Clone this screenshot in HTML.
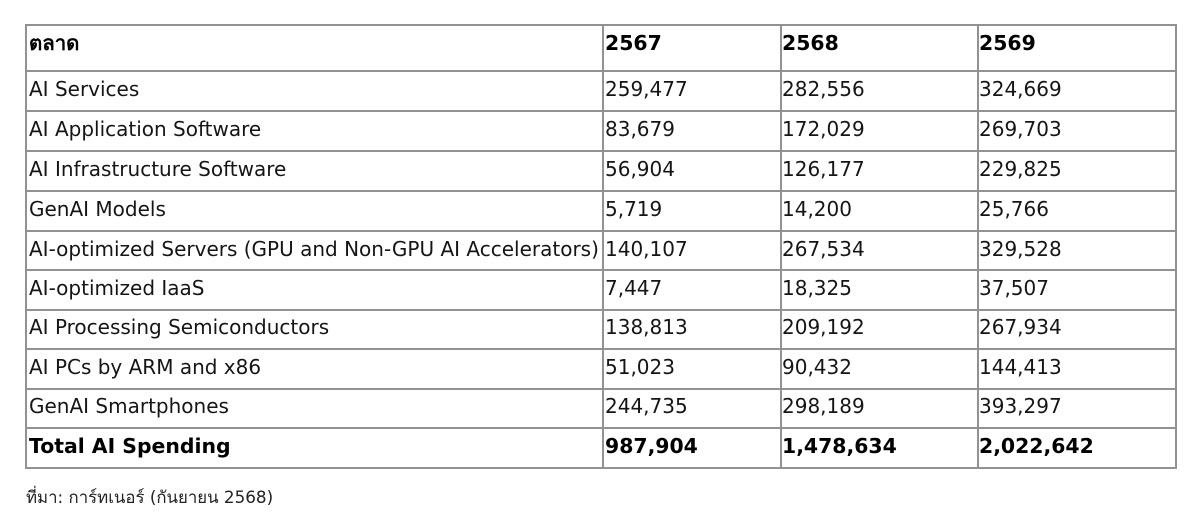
<!DOCTYPE html>
<html>
<head>
<meta charset="utf-8">
<style>
  html, body { margin:0; padding:0; background:#fff; }
  body { width:1200px; height:528px; position:relative; overflow:hidden;
         font-family:"DejaVu Sans","Liberation Sans","Noto Sans CJK SC",sans-serif; color:#111; }
  .h { position:absolute; height:2px; background:#929292; left:25px; width:1152px; }
  .v { position:absolute; width:2px; background:#929292; top:24px; height:445px; }
  .t { position:absolute; font-size:20px; line-height:20px; white-space:nowrap; color:#151515; }
  .b { position:absolute; font-size:20.4px; line-height:20.4px; font-weight:bold; white-space:nowrap; color:#000; }
  .foot { position:absolute; left:26px; top:489px; font-size:16.8px; line-height:16.8px; white-space:nowrap; color:#222; }
</style>
</head>
<body>
<!-- horizontal lines -->
<div class="h" style="top:24px"></div>
<div class="h" style="top:70px"></div>
<div class="h" style="top:110px"></div>
<div class="h" style="top:150px"></div>
<div class="h" style="top:190px"></div>
<div class="h" style="top:230px"></div>
<div class="h" style="top:269px"></div>
<div class="h" style="top:308.5px"></div>
<div class="h" style="top:348px"></div>
<div class="h" style="top:388px"></div>
<div class="h" style="top:427px"></div>
<div class="h" style="top:467px"></div>
<!-- vertical lines -->
<div class="v" style="left:25px"></div>
<div class="v" style="left:602px"></div>
<div class="v" style="left:779.5px"></div>
<div class="v" style="left:976.5px"></div>
<div class="v" style="left:1175px"></div>

<!-- header -->
<div class="b" style="left:29px;top:32.7px">ตลาด</div>
<div class="b" style="left:605px;top:32.7px">2567</div>
<div class="b" style="left:782px;top:32.7px">2568</div>
<div class="b" style="left:979px;top:32.7px">2569</div>

<!-- rows -->
<div class="t" style="left:29px;top:79.1px">AI Services</div>
<div class="t" style="left:605px;top:79.1px">259,477</div>
<div class="t" style="left:782px;top:79.1px">282,556</div>
<div class="t" style="left:979px;top:79.1px">324,669</div>

<div class="t" style="left:29px;top:119.1px">AI Application Software</div>
<div class="t" style="left:605px;top:119.1px">83,679</div>
<div class="t" style="left:782px;top:119.1px">172,029</div>
<div class="t" style="left:979px;top:119.1px">269,703</div>

<div class="t" style="left:29px;top:159.1px">AI Infrastructure Software</div>
<div class="t" style="left:605px;top:159.1px">56,904</div>
<div class="t" style="left:782px;top:159.1px">126,177</div>
<div class="t" style="left:979px;top:159.1px">229,825</div>

<div class="t" style="left:29px;top:199.1px">GenAI Models</div>
<div class="t" style="left:605px;top:199.1px">5,719</div>
<div class="t" style="left:782px;top:199.1px">14,200</div>
<div class="t" style="left:979px;top:199.1px">25,766</div>

<div class="t" style="left:29px;top:238.8px">AI-optimized Servers (GPU and Non-GPU AI Accelerators)</div>
<div class="t" style="left:605px;top:238.8px">140,107</div>
<div class="t" style="left:782px;top:238.8px">267,534</div>
<div class="t" style="left:979px;top:238.8px">329,528</div>

<div class="t" style="left:29px;top:277.8px">AI-optimized IaaS</div>
<div class="t" style="left:605px;top:277.8px">7,447</div>
<div class="t" style="left:782px;top:277.8px">18,325</div>
<div class="t" style="left:979px;top:277.8px">37,507</div>

<div class="t" style="left:29px;top:317.3px">AI Processing Semiconductors</div>
<div class="t" style="left:605px;top:317.3px">138,813</div>
<div class="t" style="left:782px;top:317.3px">209,192</div>
<div class="t" style="left:979px;top:317.3px">267,934</div>

<div class="t" style="left:29px;top:356.8px">AI PCs by ARM and x86</div>
<div class="t" style="left:605px;top:356.8px">51,023</div>
<div class="t" style="left:782px;top:356.8px">90,432</div>
<div class="t" style="left:979px;top:356.8px">144,413</div>

<div class="t" style="left:29px;top:396.3px">GenAI Smartphones</div>
<div class="t" style="left:605px;top:396.3px">244,735</div>
<div class="t" style="left:782px;top:396.3px">298,189</div>
<div class="t" style="left:979px;top:396.3px">393,297</div>

<div class="b" style="left:29px;top:435.7px">Total AI Spending</div>
<div class="b" style="left:605px;top:435.7px">987,904</div>
<div class="b" style="left:782px;top:435.7px">1,478,634</div>
<div class="b" style="left:979px;top:435.7px">2,022,642</div>

<div class="foot">ที่มา: การ์ทเนอร์ (กันยายน 2568)</div>
</body>
</html>
